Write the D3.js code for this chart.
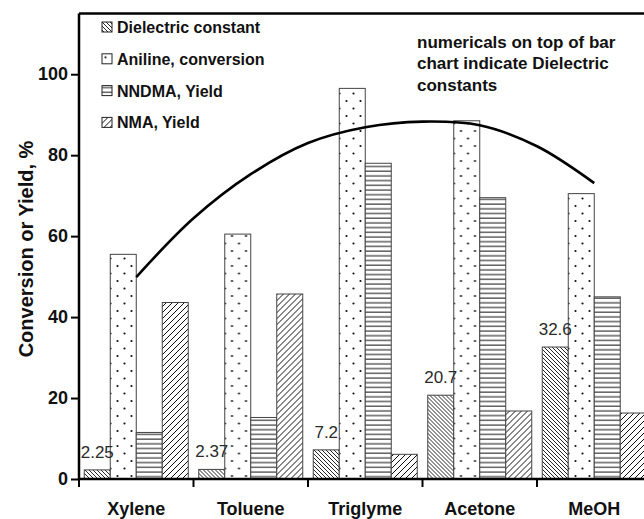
<!DOCTYPE html>
<html><head><meta charset="utf-8">
<script src="https://cdn.jsdelivr.net/npm/d3@7"></script>
<style>
body{margin:0;background:#fff}
text{font-family:"Liberation Sans",Arial,Helvetica,sans-serif}
</style>
</head><body><svg id="chart" width="644" height="519"></svg>
<script>
const solvents = ["Xylene", "Toluene", "Triglyme", "Acetone", "MeOH"];
const seriesNames = ["Dielectric constant", "Aniline, conversion", "NNDMA, Yield", "NMA, Yield"];
const dielectric = [2.25, 2.37, 7.2, 20.7, 32.6];
const anilineConversion = [55.5, 60.5, 96.5, 88.5, 70.5];
const nndmaYield = [11.5, 15.2, 78, 69.5, 45];
const nmaYield = [43.6, 45.7, 6.1, 16.8, 16.3];
const yTicks = [0, 20, 40, 60, 80, 100];
// trend curve through the aniline conversion: [category position, value]
const trendPos = [0, 0.5, 1, 1.5, 2, 2.5, 3, 3.5, 4];
const trendVal = [49.9, 64.4, 75.3, 83.0, 86.9, 88.3, 87.4, 82.2, 73.1];
const noteLines = ["numericals on top of bar", "chart indicate Dielectric", "constants"];

const seriesValues = [dielectric, anilineConversion, nndmaYield, nmaYield];
const patternIds = ["pDiel", "pAniline", "pNndma", "pNma"];

const svg = d3.select("#chart");
const plotLeft = 79, plotTop = 13.5, plotW = 572.5, plotBottom = 479;

const x = d3.scaleBand().domain(solvents).range([plotLeft, plotLeft + plotW]).padding(0);
const xs = d3.scaleBand().domain(seriesNames).range([5.25, x.bandwidth() - 5.25]).padding(0);
const y = d3.scaleLinear().domain([0, 115]).range([plotBottom, plotTop]);

// hatch patterns
const defs = svg.append("defs");
const pd = defs.append("pattern").attr("id", "pDiel").attr("patternUnits", "userSpaceOnUse")
  .attr("width", 4).attr("height", 4);
pd.append("rect").attr("width", 4).attr("height", 4).attr("fill", "#fff");
pd.append("path").attr("d", "M-1,-1L5,5M-1,3L1,5M3,-1L5,1").attr("stroke", "#111").attr("stroke-width", 0.9);

const pa = defs.append("pattern").attr("id", "pAniline").attr("patternUnits", "userSpaceOnUse")
  .attr("width", 14).attr("height", 15);
pa.append("rect").attr("width", 14).attr("height", 15).attr("fill", "#fff");
pa.append("circle").attr("cx", 3.5).attr("cy", 3.5).attr("r", 1.1).attr("fill", "#111");
pa.append("circle").attr("cx", 10.5).attr("cy", 11).attr("r", 1.1).attr("fill", "#111");

const pn = defs.append("pattern").attr("id", "pNndma").attr("patternUnits", "userSpaceOnUse")
  .attr("width", 8).attr("height", 4.7);
pn.append("rect").attr("width", 8).attr("height", 4.7).attr("fill", "#fff");
pn.append("path").attr("d", "M0,2L8,2").attr("stroke", "#111").attr("stroke-width", 1);

const pm = defs.append("pattern").attr("id", "pNma").attr("patternUnits", "userSpaceOnUse")
  .attr("width", 6).attr("height", 6);
pm.append("rect").attr("width", 6).attr("height", 6).attr("fill", "#fff");
pm.append("path").attr("d", "M-1,7L7,-1M-1,1L1,-1M5,7L7,5").attr("stroke", "#111").attr("stroke-width", 1);

// bars
const groups = svg.append("g").selectAll("g").data(solvents).join("g")
  .attr("transform", d => `translate(${x(d)},0)`);
groups.selectAll("rect").data((d, i) => seriesNames.map((s, k) => ({s, k, v: seriesValues[k][i]})))
  .join("rect")
  .attr("x", d => xs(d.s))
  .attr("width", xs.bandwidth())
  .attr("y", d => y(d.v))
  .attr("height", d => y(0) - y(d.v))
  .attr("fill", d => `url(#${patternIds[d.k]})`)
  .attr("stroke", "#444").attr("stroke-width", 1);

// dielectric constant values above their bars
svg.append("g").selectAll("text").data(solvents).join("text")
  .attr("x", (d, i) => x(d) + xs(seriesNames[0]) + xs.bandwidth() / 2)
  .attr("y", (d, i) => y(dielectric[i]) - 12)
  .attr("text-anchor", "middle")
  .attr("font-size", 17).attr("fill", "#2a2a2a")
  .text((d, i) => dielectric[i]);

// trend curve
const posX = t => x(solvents[0]) + x.bandwidth() / 2 + t * x.step();
svg.append("path")
  .datum(trendPos.map((t, i) => [t, trendVal[i]]))
  .attr("fill", "none").attr("stroke", "#000").attr("stroke-width", 2.6)
  .attr("d", d3.line().x(d => posX(d[0])).y(d => y(d[1])).curve(d3.curveCatmullRom));

// frame top
svg.append("line").attr("x1", plotLeft).attr("x2", plotLeft + plotW).attr("y1", plotTop).attr("y2", plotTop)
  .attr("stroke", "#000").attr("stroke-width", 2.5);

// y axis
const yAxis = svg.append("g").attr("transform", `translate(${plotLeft},0)`)
  .call(d3.axisLeft(y).tickValues(yTicks).tickSize(8).tickPadding(3));
yAxis.select(".domain").attr("d", `M0,${plotTop}V${plotBottom}`).attr("stroke-width", 2.5);
yAxis.selectAll(".tick line").attr("stroke-width", 2);
yAxis.selectAll(".tick text").attr("font-size", 18).attr("font-weight", "bold")
  .attr("font-family", "Liberation Sans, Arial, sans-serif").attr("fill", "#111");

// x axis: ticks at category boundaries
const xAxis = svg.append("g").attr("transform", `translate(0,${plotBottom})`);
xAxis.append("line").attr("x1", plotLeft).attr("x2", plotLeft + plotW).attr("stroke", "#000").attr("stroke-width", 2.5);
xAxis.selectAll("line.bt").data(solvents).join("line").attr("class", "bt")
  .attr("x1", d => x(d)).attr("x2", d => x(d)).attr("y1", 0).attr("y2", 8)
  .attr("stroke", "#000").attr("stroke-width", 2);
xAxis.selectAll("text").data(solvents).join("text")
  .attr("x", d => x(d) + x.bandwidth() / 2).attr("y", 36)
  .attr("text-anchor", "middle").attr("font-size", 18).attr("font-weight", "bold").attr("fill", "#111")
  .text(d => d);

// y title
svg.append("text").attr("transform", "translate(33,249) rotate(-90)")
  .attr("text-anchor", "middle").attr("font-size", 20).attr("font-weight", "bold").attr("fill", "#111")
  .text("Conversion or Yield, %");

// legend
const lg = svg.append("g").selectAll("g").data(seriesNames).join("g")
  .attr("transform", (d, i) => `translate(102,${22 + i * 31.8})`);
lg.append("rect").attr("width", 10).attr("height", 10)
  .attr("fill", (d, i) => `url(#${patternIds[i]})`).attr("stroke", "#222").attr("stroke-width", 1);
lg.append("text").attr("x", 15).attr("y", 11).attr("font-size", 16).attr("font-weight", "bold")
  .attr("fill", "#111").text(d => d);

// note
svg.append("g").selectAll("text").data(noteLines).join("text")
  .attr("x", 417).attr("y", (d, i) => 47.5 + i * 21.5)
  .attr("font-size", 17).attr("font-weight", "bold").attr("fill", "#111").text(d => d);
</script>
</body></html>
